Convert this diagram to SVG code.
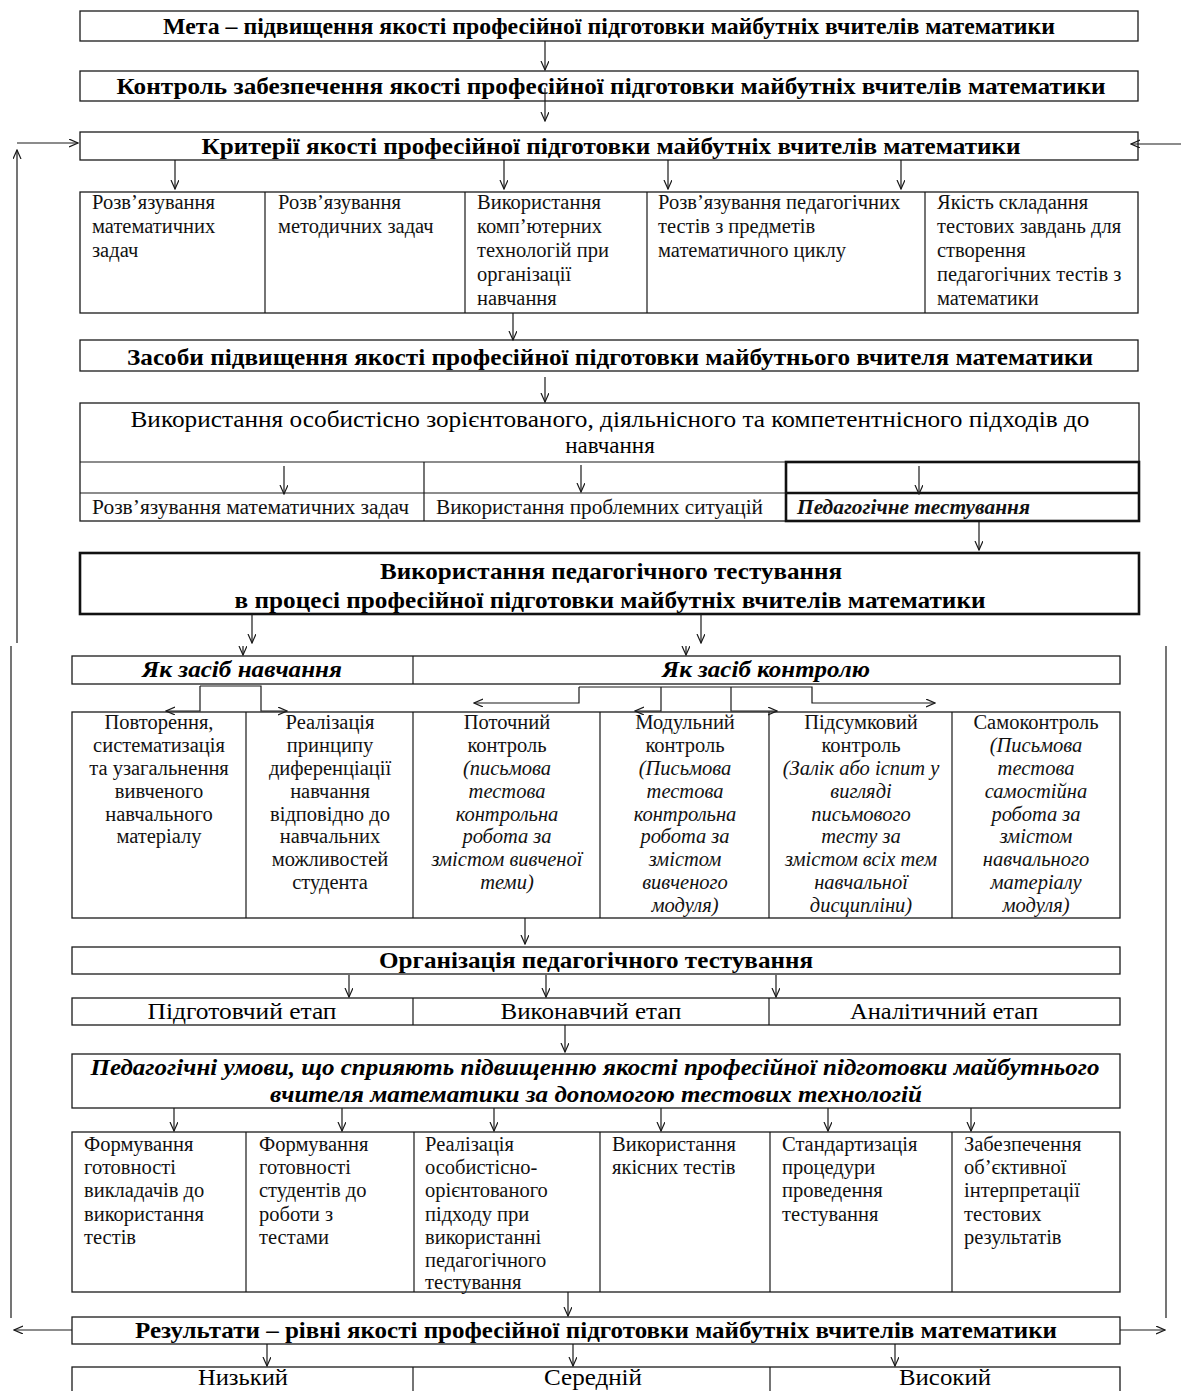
<svg xmlns="http://www.w3.org/2000/svg" width="1181" height="1391" viewBox="0 0 1181 1391">
<defs>
<marker id="ah" markerWidth="10" markerHeight="10" refX="9" refY="4" orient="auto" markerUnits="userSpaceOnUse">
<path d="M0,0 L9,4 L0,8" fill="none" stroke="#1a1a1a" stroke-width="1.2"/>
</marker>
<style>
.box{fill:#fff;stroke:#1a1a1a;stroke-width:1.3}
.boxb{fill:#fff;stroke:#111;stroke-width:2.6}
.thick{fill:none;stroke:#111;stroke-width:2.6}
.ln{fill:none;stroke:#1a1a1a;stroke-width:1.2}
.ar{fill:none;stroke:#1a1a1a;stroke-width:1.2;marker-end:url(#ah)}
.h{font-family:"Liberation Serif",serif;font-weight:bold;font-size:23px;text-anchor:middle;fill:#000}
.r{font-family:"Liberation Serif",serif;font-size:23px;text-anchor:middle;fill:#000}
.t{font-family:"Liberation Serif",serif;font-size:20.5px;fill:#111}
.c{text-anchor:middle}
.i{font-style:italic}
.bi{font-weight:bold;font-style:italic}
</style>
</defs>
<rect width="1181" height="1391" fill="#fff"/>

<g id="meta">
<rect class="box" x="80" y="11" width="1058" height="30"/>
<text class="h" x="609" y="34" textLength="892" lengthAdjust="spacingAndGlyphs">Мета – підвищення якості професійної підготовки майбутніх вчителів математики</text>
</g>

<g id="kontrol">
<rect class="box" x="80" y="71" width="1058" height="30"/>
<text class="h" x="611" y="94" textLength="989" lengthAdjust="spacingAndGlyphs">Контроль забезпечення якості професійної підготовки майбутніх вчителів математики</text>
</g>

<g id="kryterii">
<rect class="box" x="80" y="132" width="1058" height="28"/>
<text class="h" x="611" y="154" textLength="819" lengthAdjust="spacingAndGlyphs">Критерії якості професійної підготовки майбутніх вчителів математики</text>
</g>

<g id="kryterii-row">
<rect class="box" x="80" y="192" width="1058" height="121"/>
<path class="ln" d="M265,192 V313 M465,192 V313 M647,192 V313 M925,192 V313"/>
<g class="t">
<text x="92" y="209">Розв’язування</text>
<text x="92" y="233">математичних</text>
<text x="92" y="257">задач</text>
<text x="278" y="209">Розв’язування</text>
<text x="278" y="233">методичних задач</text>
<text x="477" y="209">Використання</text>
<text x="477" y="233">комп’ютерних</text>
<text x="477" y="257">технологій при</text>
<text x="477" y="281">організації</text>
<text x="477" y="305">навчання</text>
<text x="658" y="209">Розв’язування педагогічних</text>
<text x="658" y="233">тестів з предметів</text>
<text x="658" y="257">математичного циклу</text>
<text x="937" y="209">Якість складання</text>
<text x="937" y="233">тестових завдань для</text>
<text x="937" y="257">створення</text>
<text x="937" y="281">педагогічних тестів з</text>
<text x="937" y="305">математики</text>
</g>
</g>

<g id="zasoby">
<rect class="box" x="80" y="340" width="1058" height="31"/>
<text class="h" x="610" y="365" textLength="966" lengthAdjust="spacingAndGlyphs">Засоби підвищення якості професійної підготовки майбутнього вчителя математики</text>
</g>

<g id="pidhody">
<rect class="box" x="80" y="403" width="1059" height="118"/>
<path class="ln" d="M80,462 H786 M80,493 H786 M424,462 V521"/>
<rect class="thick" x="786" y="462" width="353" height="59"/>
<path class="thick" d="M786,493 H1139"/>
<text class="r" x="610" y="427" textLength="959" lengthAdjust="spacingAndGlyphs">Використання особистісно зорієнтованого, діяльнісного та компетентнісного підходів до</text>
<text class="r" x="610" y="453">навчання</text>
<text class="t" x="92" y="514" font-size="20" textLength="317" lengthAdjust="spacingAndGlyphs">Розв’язування математичних задач</text>
<text class="t" x="436" y="514" font-size="20" textLength="327" lengthAdjust="spacingAndGlyphs">Використання проблемних ситуацій</text>
<text class="t bi" x="797" y="514" font-size="20" textLength="233" lengthAdjust="spacingAndGlyphs">Педагогічне тестування</text>
</g>

<g id="vykorystannia-testuvannia">
<rect class="boxb" x="80" y="553" width="1059" height="61"/>
<text class="h" x="611" y="579" textLength="462" lengthAdjust="spacingAndGlyphs">Використання педагогічного тестування</text>
<text class="h" x="610" y="608" textLength="751" lengthAdjust="spacingAndGlyphs">в процесі професійної підготовки майбутніх вчителів математики</text>
</g>

<g id="zasib">
<rect class="box" x="72" y="656" width="1048" height="28"/>
<path class="ln" d="M413,656 V684"/>
<text class="h bi" x="242" y="677" textLength="200" lengthAdjust="spacingAndGlyphs">Як засіб навчання</text>
<text class="h bi" x="766" y="677" textLength="208" lengthAdjust="spacingAndGlyphs">Як засіб контролю</text>
</g>

<g id="vydy">
<rect class="box" x="72" y="712" width="1048" height="206"/>
<path class="ln" d="M246,712 V918 M413,712 V918 M600,712 V918 M769,712 V918 M952,712 V918"/>
<g class="t c">
<text x="159" y="729">Повторення,</text>
<text x="159" y="752">систематизація</text>
<text x="159" y="775">та узагальнення</text>
<text x="159" y="798">вивченого</text>
<text x="159" y="821">навчального</text>
<text x="159" y="843">матеріалу</text>
<text x="330" y="729">Реалізація</text>
<text x="330" y="752">принципу</text>
<text x="330" y="775">диференціації</text>
<text x="330" y="798">навчання</text>
<text x="330" y="821">відповідно до</text>
<text x="330" y="843">навчальних</text>
<text x="330" y="866">можливостей</text>
<text x="330" y="889">студента</text>
<text x="507" y="729">Поточний</text>
<text x="507" y="752">контроль</text>
<text class="i" x="507" y="775">(письмова</text>
<text class="i" x="507" y="798">тестова</text>
<text class="i" x="507" y="821">контрольна</text>
<text class="i" x="507" y="843">робота за</text>
<text class="i" x="507" y="866">змістом вивченої</text>
<text class="i" x="507" y="889">теми)</text>
<text x="685" y="729">Модульний</text>
<text x="685" y="752">контроль</text>
<text class="i" x="685" y="775">(Письмова</text>
<text class="i" x="685" y="798">тестова</text>
<text class="i" x="685" y="821">контрольна</text>
<text class="i" x="685" y="843">робота за</text>
<text class="i" x="685" y="866">змістом</text>
<text class="i" x="685" y="889">вивченого</text>
<text class="i" x="685" y="912">модуля)</text>
<text x="861" y="729">Підсумковий</text>
<text x="861" y="752">контроль</text>
<text class="i" x="861" y="775">(Залік або іспит у</text>
<text class="i" x="861" y="798">вигляді</text>
<text class="i" x="861" y="821">письмового</text>
<text class="i" x="861" y="843">тесту за</text>
<text class="i" x="861" y="866">змістом всіх тем</text>
<text class="i" x="861" y="889">навчальної</text>
<text class="i" x="861" y="912">дисципліни)</text>
<text x="1036" y="729">Самоконтроль</text>
<text class="i" x="1036" y="752">(Письмова</text>
<text class="i" x="1036" y="775">тестова</text>
<text class="i" x="1036" y="798">самостійна</text>
<text class="i" x="1036" y="821">робота за</text>
<text class="i" x="1036" y="843">змістом</text>
<text class="i" x="1036" y="866">навчального</text>
<text class="i" x="1036" y="889">матеріалу</text>
<text class="i" x="1036" y="912">модуля)</text>
</g>
</g>

<g id="organizatsiia">
<rect class="box" x="72" y="947" width="1048" height="27"/>
<text class="h" x="596" y="968" textLength="434" lengthAdjust="spacingAndGlyphs">Організація педагогічного тестування</text>
</g>

<g id="etapy">
<rect class="box" x="72" y="998" width="1048" height="27"/>
<path class="ln" d="M413,998 V1025 M769,998 V1025"/>
<text class="r" x="242" y="1019" textLength="189" lengthAdjust="spacingAndGlyphs">Підготовчий етап</text>
<text class="r" x="591" y="1019" textLength="181" lengthAdjust="spacingAndGlyphs">Виконавчий етап</text>
<text class="r" x="944" y="1019" textLength="188" lengthAdjust="spacingAndGlyphs">Аналітичний етап</text>
</g>

<g id="umovy">
<rect class="box" x="72" y="1054" width="1048" height="54"/>
<text class="h bi" x="595" y="1075" font-size="21" textLength="1009" lengthAdjust="spacingAndGlyphs">Педагогічні умови, що сприяють підвищенню якості професійної підготовки майбутнього</text>
<text class="h bi" x="596" y="1102" font-size="21" textLength="652" lengthAdjust="spacingAndGlyphs">вчителя математики за допомогою тестових технологій</text>
</g>

<g id="umovy-row">
<rect class="box" x="72" y="1132" width="1048" height="160"/>
<path class="ln" d="M246,1132 V1292 M414,1132 V1292 M600,1132 V1292 M770,1132 V1292 M952,1132 V1292"/>
<g class="t">
<text x="84" y="1151">Формування</text>
<text x="84" y="1174">готовності</text>
<text x="84" y="1197">викладачів до</text>
<text x="84" y="1221">використання</text>
<text x="84" y="1244">тестів</text>
<text x="259" y="1151">Формування</text>
<text x="259" y="1174">готовності</text>
<text x="259" y="1197">студентів до</text>
<text x="259" y="1221">роботи з</text>
<text x="259" y="1244">тестами</text>
<text x="425" y="1151">Реалізація</text>
<text x="425" y="1174">особистісно-</text>
<text x="425" y="1197">орієнтованого</text>
<text x="425" y="1221">підходу при</text>
<text x="425" y="1244">використанні</text>
<text x="425" y="1267">педагогічного</text>
<text x="425" y="1289">тестування</text>
<text x="612" y="1151">Використання</text>
<text x="612" y="1174">якісних тестів</text>
<text x="782" y="1151">Стандартизація</text>
<text x="782" y="1174">процедури</text>
<text x="782" y="1197">проведення</text>
<text x="782" y="1221">тестування</text>
<text x="964" y="1151">Забезпечення</text>
<text x="964" y="1174">об’єктивної</text>
<text x="964" y="1197">інтерпретації</text>
<text x="964" y="1221">тестових</text>
<text x="964" y="1244">результатів</text>
</g>
</g>

<g id="rezultaty">
<rect class="box" x="72" y="1317" width="1048" height="27"/>
<text class="h" x="596" y="1338" textLength="922" lengthAdjust="spacingAndGlyphs">Результати – рівні якості професійної підготовки майбутніх вчителів математики</text>
</g>

<g id="rivni">
<rect class="box" x="72" y="1367" width="1048" height="40"/>
<path class="ln" d="M413,1367 V1391 M770,1367 V1391"/>
<text class="r" x="243" y="1385" font-size="21" textLength="90" lengthAdjust="spacingAndGlyphs">Низький</text>
<text class="r" x="593" y="1385" font-size="21" textLength="98" lengthAdjust="spacingAndGlyphs">Середній</text>
<text class="r" x="945" y="1385" font-size="21" textLength="92" lengthAdjust="spacingAndGlyphs">Високий</text>
</g>

<g id="connectors">
<path class="ar" d="M545,41 V70"/>
<path class="ar" d="M545,88 V121"/>
<path class="ar" d="M175,160 V189"/>
<path class="ar" d="M504,160 V189"/>
<path class="ar" d="M668,160 V189"/>
<path class="ar" d="M901,160 V189"/>
<path class="ar" d="M513,313 V340"/>
<path class="ar" d="M545,377 V402"/>
<path class="ar" d="M284,466 V494"/>
<path class="ar" d="M581,465 V492"/>
<path class="ar" d="M919,466 V494"/>
<path class="ar" d="M979,522 V550"/>
<path class="ar" d="M252,614 V643"/>
<path class="ar" d="M701,614 V643"/>
<path class="ar" d="M243,646 V655"/>
<path class="ar" d="M686,646 V655"/>
<path class="ar" d="M17,643 V150"/>
<path class="ar" d="M17,143 H78"/>
<path class="ar" d="M1181,144 H1131"/>
<path class="ln" d="M11,646 V1318"/>
<path class="ln" d="M1166,646 V1318"/>
<path class="ar" d="M72,1330 H14"/>
<path class="ar" d="M1120,1330 H1165"/>
<path class="ar" d="M200,686 V711 H166"/>
<path class="ar" d="M200,686 H261 V711 H287"/>
<path class="ar" d="M579,687 V703 H474"/>
<path class="ar" d="M579,687 H812 V703 H935"/>
<path class="ar" d="M661,687 V711 H635"/>
<path class="ar" d="M731,687 V711 H777"/>
<path class="ar" d="M525,918 V944"/>
<path class="ar" d="M349,975 V997"/>
<path class="ar" d="M546,975 V997"/>
<path class="ar" d="M776,975 V997"/>
<path class="ar" d="M565,1025 V1052"/>
<path class="ar" d="M174,1108 V1131"/>
<path class="ar" d="M342,1108 V1131"/>
<path class="ar" d="M494,1108 V1131"/>
<path class="ar" d="M661,1108 V1131"/>
<path class="ar" d="M828,1108 V1131"/>
<path class="ar" d="M971,1108 V1131"/>
<path class="ar" d="M568,1292 V1316"/>
<path class="ar" d="M267,1344 V1366"/>
<path class="ar" d="M573,1344 V1366"/>
<path class="ar" d="M895,1344 V1366"/>
</g>
</svg>
